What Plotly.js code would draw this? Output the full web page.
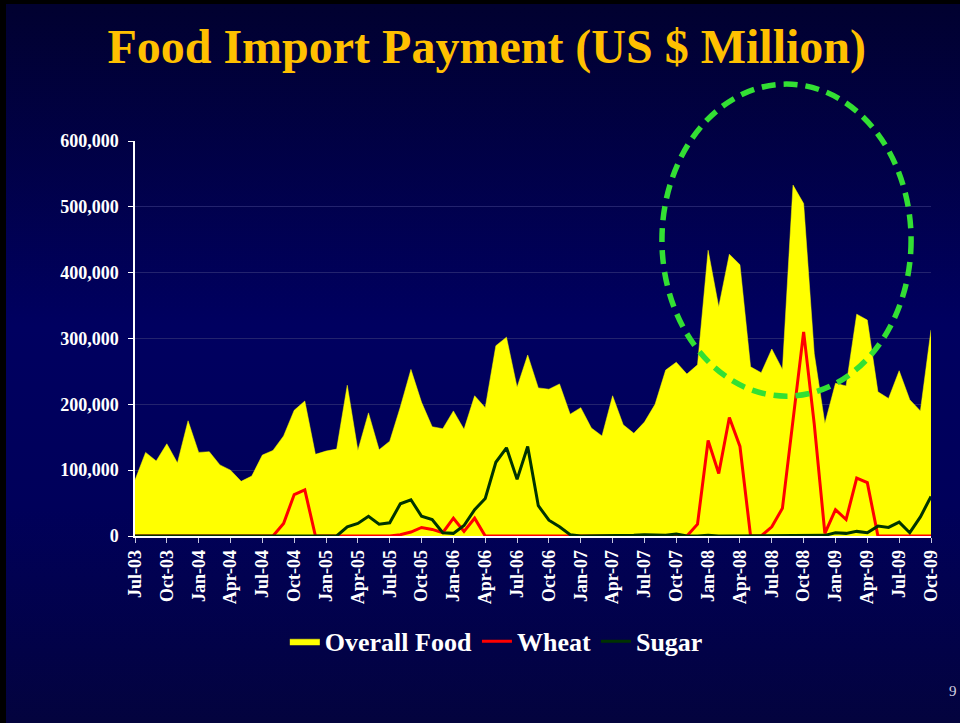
<!DOCTYPE html>
<html>
<head>
<meta charset="utf-8">
<script src="https://cdn.plot.ly/plotly-3.0.1.min.js"></script>
<style>
  body { margin: 0; background: #000; }
  #chart {
    width: 960px; height: 723px;
    background:
      linear-gradient(#000 0 4px, transparent 4px),
      linear-gradient(to right, #000 0 6px, transparent 6px),
      linear-gradient(to bottom, #01012f 0%, #000060 45%, #00005a 70%, #03033e 100%);
  }
</style>
</head>
<body>
<div id="chart"></div>
<script>
var months = [
	"Jul-03", "Aug-03", "Sep-03", "Oct-03", "Nov-03", "Dec-03",
	"Jan-04", "Feb-04", "Mar-04", "Apr-04", "May-04", "Jun-04",
	"Jul-04", "Aug-04", "Sep-04", "Oct-04", "Nov-04", "Dec-04",
	"Jan-05", "Feb-05", "Mar-05", "Apr-05", "May-05", "Jun-05",
	"Jul-05", "Aug-05", "Sep-05", "Oct-05", "Nov-05", "Dec-05",
	"Jan-06", "Feb-06", "Mar-06", "Apr-06", "May-06", "Jun-06",
	"Jul-06", "Aug-06", "Sep-06", "Oct-06", "Nov-06", "Dec-06",
	"Jan-07", "Feb-07", "Mar-07", "Apr-07", "May-07", "Jun-07",
	"Jul-07", "Aug-07", "Sep-07", "Oct-07", "Nov-07", "Dec-07",
	"Jan-08", "Feb-08", "Mar-08", "Apr-08", "May-08", "Jun-08",
	"Jul-08", "Aug-08", "Sep-08", "Oct-08", "Nov-08", "Dec-08",
	"Jan-09", "Feb-09", "Mar-09", "Apr-09", "May-09", "Jun-09",
	"Jul-09", "Aug-09", "Sep-09", "Oct-09"
];

// labels shown on the axis (every third month)
var tick_labels = [
	"Jul-03", "Oct-03", "Jan-04", "Apr-04", "Jul-04", "Oct-04", "Jan-05",
	"Apr-05", "Jul-05", "Oct-05", "Jan-06", "Apr-06", "Jul-06", "Oct-06",
	"Jan-07", "Apr-07", "Jul-07", "Oct-07", "Jan-08", "Apr-08", "Jul-08",
	"Oct-08", "Jan-09", "Apr-09", "Jul-09", "Oct-09"
];

var overall_food = [
	85000, 127000, 114000, 140000, 111000, 175000,
	127000, 128000, 108000, 100000, 83000, 91000,
	123000, 130000, 152000, 191000, 205000, 124000,
	129000, 132000, 229000, 130000, 187000, 131000,
	144000, 196000, 253000, 203000, 166000, 163000,
	190000, 162000, 213000, 195000, 289000, 302000,
	226000, 275000, 225000, 223000, 231000, 185000,
	195000, 164000, 152000, 213000, 169000, 156000,
	173000, 200000, 252000, 264000, 246000, 260000,
	434000, 348000, 428000, 412000, 257000, 248000,
	284000, 253000, 533000, 505000, 277000, 171000,
	232000, 228000, 337000, 328000, 219000, 209000,
	251000, 207000, 190000, 313000
];

var wheat = [
	0, 0, 0, 0, 0, 0,
	0, 0, 0, 0, 0, 0,
	0, 0, 19000, 63000, 70000, 0,
	0, 0, 0, 0, 0, 0,
	0, 2000, 6000, 13000, 10000, 5000,
	27000, 7000, 27000, 0, 0, 0,
	0, 0, 0, 0, 0, 0,
	0, 0, 0, 0, 0, 0,
	0, 0, 0, 0, 0, 18000,
	145000, 95000, 180000, 136000, 0, 0,
	14000, 42000, 175000, 310000, 170000, 4000,
	40000, 25000, 88000, 81000, 0, 0,
	0, 0, 0, 0
];

var sugar = [
	0, 0, 0, 0, 0, 0,
	0, 0, 0, 0, 0, 0,
	0, 0, 0, 0, 0, 0,
	0, 0, 14000, 19000, 30000, 18000,
	20000, 49000, 55000, 30000, 25000, 5000,
	4000, 16000, 40000, 57000, 112000, 134000,
	86000, 136000, 46000, 24000, 14000, 2000,
	0, 0, 0, 1000, 0, 1000,
	2000, 1000, 1000, 3000, 0, 0,
	1000, 0, 0, 1000, 0, 0,
	0, 0, 0, 0, 0, 1000,
	5000, 4000, 7000, 5000, 15000, 13000,
	21000, 5000, 29000, 60000
];

var serif = "Liberation Serif, Times New Roman, serif";

var plot_food = {
	mode: "lines",
	x: months,
	y: overall_food,
	name: "Overall Food",
	fill: "tozeroy",
	fillcolor: "#ffff00",
	line: { color: "#ffff00", width: 0.5 }
};

var plot_wheat = {
	mode: "lines",
	x: months,
	y: wheat,
	name: "Wheat",
	line: { color: "#ff0000", width: 3 }
};

var plot_sugar = {
	mode: "lines",
	x: months,
	y: sugar,
	name: "Sugar",
	line: { color: "#003300", width: 3 }
};

var layout = {
	width: 960,
	height: 723,
	paper_bgcolor: "rgba(0,0,0,0)",
	plot_bgcolor: "rgba(0,0,0,0)",
	margin: { l: 135, r: 29, t: 141, b: 187 },
	title: {
		text: "Food Import Payment (US $ Million)",
		font: { family: serif, size: 48, color: "#ffc000", weight: "bold" },
		xref: "container", x: 0.507, xanchor: "center",
		yref: "container", y: 0.936, yanchor: "middle"
	},
	xaxis: {
		type: "category",
		range: [0, months.length - 1],
		tickmode: "array",
		tickvals: tick_labels,
		ticktext: tick_labels,
		tickangle: -90,
		ticks: "outside",
		ticklen: 5,
		tickcolor: "#c8c8e0",
		showline: true,
		linecolor: "#ffffff",
		linewidth: 1.5,
		showgrid: false,
		tickfont: { family: serif, size: 18, color: "#ffffff", weight: "bold" }
	},
	yaxis: {
		range: [0, 600000],
		dtick: 100000,
		tickformat: ",",
		ticks: "outside",
		ticklen: 5,
		tickcolor: "#ffffff",
		ticklabelstandoff: 6,
		showline: true,
		linecolor: "#ffffff",
		linewidth: 1.5,
		gridcolor: "#23236e",
		gridwidth: 1,
		zeroline: false,
		tickfont: { family: serif, size: 18, color: "#ffffff", weight: "bold" }
	},
	showlegend: true,
	legend: {
		orientation: "h",
		xref: "container", x: 0.517, xanchor: "center",
		yref: "container", y: 0.113, yanchor: "middle",
		font: { family: serif, size: 26, color: "#ffffff", weight: "bold" },
		itemwidth: 30,
		bgcolor: "rgba(0,0,0,0)"
	},
	// the dashed highlight ring around the 2008 peaks
	shapes: [{
		type: "circle",
		xref: "paper", yref: "paper",
		x0: 0.662, x1: 0.975, y0: 0.354, y1: 1.144,
		line: { color: "#33e033", width: 5.5, dash: "14px,8px" }
	}],
	annotations: [{
		text: "9",
		xref: "paper", yref: "paper",
		x: 1.035, y: -0.418,
		showarrow: false,
		font: { family: serif, size: 15, color: "#d0d0e0" }
	}]
};

Plotly.newPlot("chart", [plot_food, plot_wheat, plot_sugar], layout, { displayModeBar: false });
</script>
</body>
</html>
